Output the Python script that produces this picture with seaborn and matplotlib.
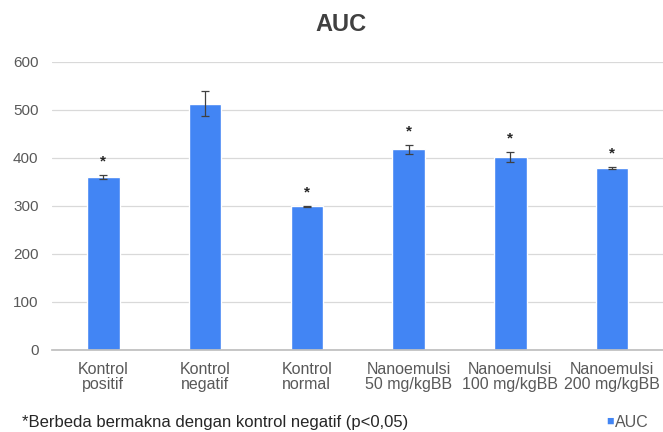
import numpy as np
import pandas as pd
import matplotlib
matplotlib.use("Agg")
import matplotlib.pyplot as plt
import seaborn as sns

# --- data ---
groups = ["Kontrol\npositif", "Kontrol\nnegatif", "Kontrol\nnormal",
          "Nanoemulsi\n50 mg/kgBB", "Nanoemulsi\n100 mg/kgBB", "Nanoemulsi\n200 mg/kgBB"]
auc = [361, 513, 299, 418, 402, 379]
auc_err = [4, 26, 1, 10, 11, 3]
signif = [True, False, True, True, True, True]
y_ticks = [0, 100, 200, 300, 400, 500, 600]

BLUE = "#4285F4"
GREY_TXT = "#595959"

sns.set_theme(style="white")
plt.rcParams["font.family"] = ["Liberation Sans", "DejaVu Sans"]

df = pd.DataFrame({"group": groups, "AUC": auc})

fig = plt.figure(figsize=(6.63, 4.32), dpi=100)
ax = fig.add_axes([0.079, 0.19, 0.921, 0.6665])

sns.barplot(data=df, x="group", y="AUC", color=BLUE, width=0.32,
            saturation=1, errorbar=None, ax=ax)

xs = np.arange(len(groups))
ax.errorbar(xs, auc, yerr=auc_err, fmt="none", ecolor="#404040",
            elinewidth=0.9, capsize=3, capthick=0.9)

for x, v, e, s in zip(xs, auc, auc_err, signif):
    if s:
        ax.text(x, v + e + 13, "*", ha="center", va="bottom",
                fontsize=11, fontweight="bold", color="#262626")

ax.set_ylim(0, 600)
ax.set_xlim(-0.5, len(groups) - 0.5)
ax.set_yticks(y_ticks)
ax.yaxis.grid(True, color="#d9d9d9", linewidth=0.9)
ax.set_axisbelow(True)
ax.set_xlabel("")
ax.set_ylabel("")
for sp in ["left", "right", "top"]:
    ax.spines[sp].set_visible(False)
ax.spines["bottom"].set_color("#bfbfbf")
ax.tick_params(axis="y", length=0, colors=GREY_TXT, labelsize=11, pad=10)
ax.tick_params(axis="x", length=0, colors=GREY_TXT, labelsize=11.5, pad=9)
for lbl in ax.get_xticklabels():
    lbl.set_linespacing(1.0)

fig.text(0.515, 0.944, "AUC", ha="center", va="center", fontsize=17,
         fontweight="bold", color="#404040")
fig.text(0.033, 0.021, "*Berbeda bermakna dengan kontrol negatif (p<0,05)",
         ha="left", va="center", fontsize=12, color="#262626")
fig.text(0.925, 0.023, "\u25a0", ha="right", va="center", fontsize=9, color=BLUE)
fig.text(0.928, 0.021, "AUC", ha="left", va="center", fontsize=11.5, color=GREY_TXT)

fig.savefig("out.png", dpi=100)
